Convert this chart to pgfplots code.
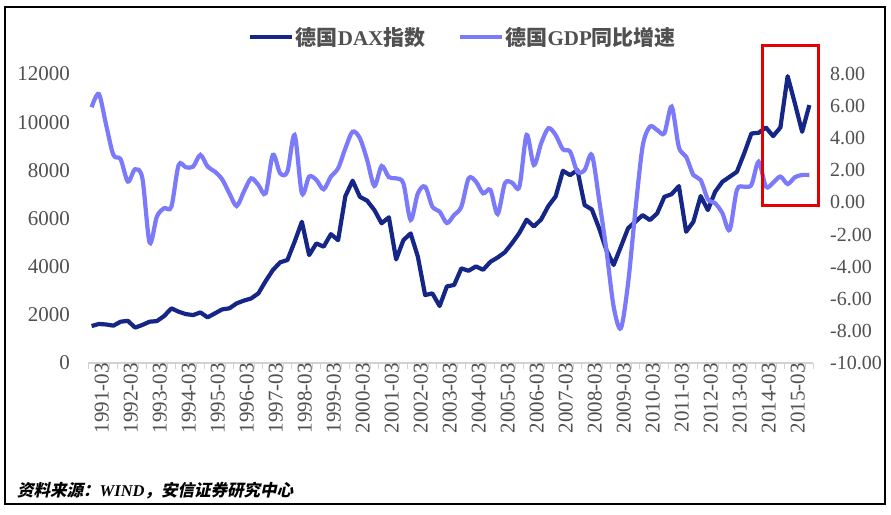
\documentclass[border=0pt]{standalone}
\usepackage{fontspec}
\setmainfont{Liberation Serif}
\newfontfamily\cjk{Noto Sans CJK SC}
\newfontfamily\cjkit[FakeSlant=0.22,BoldFeatures={FakeSlant=0.22}]{Noto Sans CJK SC}
\usepackage{pgfplots}
\usepackage{pgfplotstable}
\pgfplotsset{compat=1.18}
\definecolor{daxc}{RGB}{22,38,135}
\definecolor{gdpc}{RGB}{122,122,250}
\definecolor{lbl}{RGB}{80,80,80}
\definecolor{axl}{RGB}{210,210,210}
\pgfplotstableread{
i dax gdp
0 1535 5.93
1 1620 6.75
2 1600 4.83
3 1550 2.96
4 1715 2.69
5 1750 1.30
6 1470 2.07
7 1580 1.50
8 1715 -2.50
9 1740 -0.88
10 1950 -0.36
11 2270 -0.26
12 2130 2.33
13 2030 2.19
14 1990 2.23
15 2100 2.96
16 1895 2.23
17 2060 1.92
18 2225 1.44
19 2270 0.57
20 2475 -0.22
21 2590 0.67
22 2680 1.50
23 2890 1.09
24 3400 0.57
25 3860 2.96
26 4180 1.82
27 4275 1.92
28 5035 4.20
29 5865 0.57
30 4480 1.61
31 4965 1.40
32 4830 0.82
33 5350 1.61
34 5100 2.13
35 6930 3.37
36 7570 4.41
37 6900 4.00
38 6740 2.65
39 6350 1.03
40 5800 2.27
41 6050 1.57
42 4300 1.50
43 5100 1.19
44 5380 -1.09
45 4410 0.57
46 2820 0.98
47 2890 -0.26
48 2365 -0.57
49 3180 -1.28
50 3240 -0.78
51 3930 -0.26
52 3830 1.50
53 4010 1.30
54 3870 0.57
55 4200 0.78
56 4380 -0.72
57 4600 1.19
58 4980 1.23
59 5400 0.98
60 5950 4.20
61 5670 2.33
62 5960 3.68
63 6520 4.62
64 6915 4.20
65 7980 3.31
66 7800 3.16
67 8010 1.92
68 6555 2.02
69 6375 2.96
70 5590 0.16
71 4690 -2.96
72 4070 -6.49
73 4830 -7.83
74 5600 -5.00
75 5865 -0.50
76 6140 3.50
77 5935 4.72
78 6210 4.51
79 6900 4.31
80 7010 5.97
81 7345 3.44
82 5450 2.85
83 5865 1.71
84 6930 1.40
85 6350 0.20
86 7110 -0.05
87 7525 -0.67
88 7730 -1.71
89 7940 0.78
90 8700 0.98
91 9530 1.09
92 9560 2.54
93 9780 0.98
94 9420 1.23
95 9780 1.61
96 11910 1.15
97 10780 1.57
98 9600 1.71
99 10710 1.71
}\datatable
\begin{document}
\begin{tikzpicture}
\useasboundingbox (0,0) rectangle (891pt,514pt);
\fill[white] (0,0) rectangle (891pt,514pt);
\begin{axis}[
  at={(88pt,151pt)}, anchor=south west,
  scale only axis, width=725pt, height=289pt,
  xmin=-0.5, xmax=99.5, ymin=0, ymax=12000,
  axis x line*=bottom, axis y line*=left,
  x axis line style={draw=axl, line width=1.2pt, -},
  y axis line style={draw=none},
  xtick={0,4,...,96},
  xticklabels={1991-03,1992-03,1993-03,1994-03,1995-03,1996-03,1997-03,1998-03,1999-03,2000-03,2001-03,2002-03,2003-03,2004-03,2005-03,2006-03,2007-03,2008-03,2009-03,2010-03,2011-03,2012-03,2013-03,2014-03,2015-03},
  minor xtick={-0.5,0.5,...,99.5},
  major tick length=0pt,
  minor tick length=6pt,
  tick align=outside,
  minor tick style={draw=axl, line width=0.8pt},
  ytick={0,2000,...,12000},
  scaled y ticks=false,
  /pgf/number format/assume math mode=true,
  /pgf/number format/set thousands separator={},
  xticklabel style={rotate=90, anchor=east, font=\fontsize{21}{21}\selectfont, text=lbl, inner sep=0pt, yshift=-10pt},
  yticklabel style={font=\fontsize{21}{21}\selectfont, text=lbl, inner sep=0pt, xshift=-18pt},
  legend style={at={(0.517,1.128)}, anchor=center, draw=none, fill=none,
     legend columns=2, font=\fontsize{21}{21}\selectfont, text=lbl,
     /tikz/every even column/.append style={column sep=30pt}},
  legend image code/.code={\draw[#1] (0pt,0pt) -- (42pt,0pt);},
  legend cell align=left,
]
\addplot[daxc, line width=4.2pt, line join=round] table[x=i,y=dax]{\datatable};
\addlegendentry{{\cjk\bfseries 德国}\textbf{DAX}{\cjk\bfseries 指数}}
\addlegendimage{gdpc, line width=4.2pt}
\addlegendentry{{\cjk\bfseries 德国}\textbf{GDP}{\cjk\bfseries 同比增速}}
\end{axis}
\begin{axis}[
  at={(88pt,151pt)}, anchor=south west,
  scale only axis, width=725pt, height=289pt,
  xmin=-0.5, xmax=99.5, ymin=-10, ymax=8,
  axis x line=none,
  axis y line*=right,
  y axis line style={draw=none},
  major tick length=0pt,
  ytick={-10,-8,...,8},
  /pgf/number format/assume math mode=true,
  /pgf/number format/.cd, fixed, fixed zerofill, precision=2, /pgfplots/.cd,
  yticklabel style={font=\fontsize{20}{20}\selectfont, text=lbl, inner sep=0pt, xshift=17pt, anchor=west},
]
\addplot[gdpc, line width=4.2pt, smooth, tension=0.5] table[x=i,y=gdp]{\datatable};
\end{axis}
\draw[red!90!black, line width=3pt] (762pt,308pt) rectangle (818pt,468pt);
\node[anchor=west, inner sep=0pt, font=\fontsize{16.5}{16.5}\selectfont] at (17pt,23pt)
  {{\cjkit\bfseries 资料来源：}\textbf{\textit{WIND}}{\cjkit\bfseries ，安信证券研究中心}};
\draw[line width=2.5pt] (5pt,10pt) rectangle (885pt,507pt);
\end{tikzpicture}
\end{document}
